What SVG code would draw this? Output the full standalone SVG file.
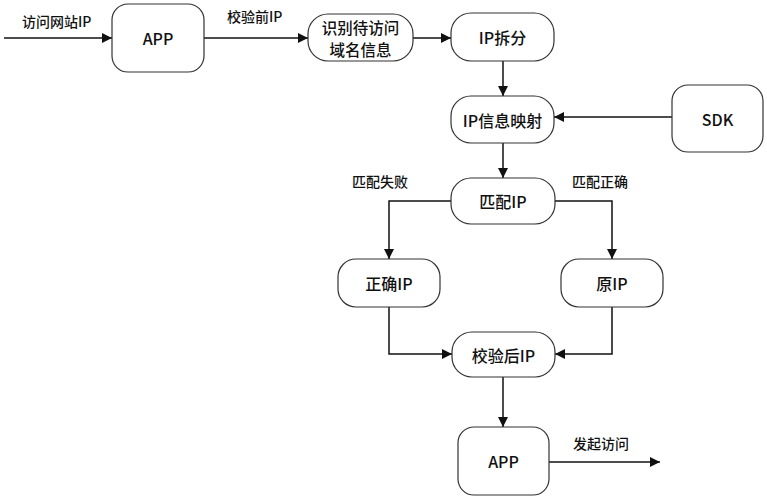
<svg xmlns="http://www.w3.org/2000/svg" width="767" height="500" viewBox="0 0 767 500">
<defs>
<marker id="ah" viewBox="0 0 10 10" refX="10" refY="5" markerWidth="10" markerHeight="10" markerUnits="userSpaceOnUse" orient="auto">
<path d="M0,0 L10,5 L0,10 z" fill="#111"/>
</marker>
<style>
.n rect{fill:#fff;stroke:#333;stroke-width:1.2}
.n text{font-family:"Noto Sans CJK SC","Liberation Sans",sans-serif;font-size:16px;font-weight:500;fill:#111;text-anchor:middle;dominant-baseline:central}
.c path{fill:none;stroke:#111;stroke-width:1.5;marker-end:url(#ah)}
.l{font-family:"Noto Sans CJK SC","Liberation Sans",sans-serif;font-size:14px;font-weight:500;fill:#111}
</style>
</defs>
<rect width="767" height="500" fill="#fff"/>
<g class="c">
<path d="M4,38 H112"/>
<path d="M204,38 H308"/>
<path d="M413,38 H451"/>
<path d="M503,61 V96"/>
<path d="M672,117 H554"/>
<path d="M503,143 V178"/>
<path d="M451,201 H389 V259"/>
<path d="M555,201 H612 V259"/>
<path d="M389,307 V354 H452"/>
<path d="M612,307 V354 H555"/>
<path d="M503,377 V427"/>
<path d="M549,462 H660"/>
</g>
<g id="app1" class="n"><rect x="112" y="4" width="92" height="68" rx="16"/><text x="158" y="38">APP</text></g>
<g id="identify" class="n"><rect x="308" y="14" width="105" height="47" rx="20"/><text x="360.5" y="26.5" style="font-size:15.5px">识别待访问</text><text x="360.5" y="49" style="font-size:15.5px">域名信息</text></g>
<g id="split" class="n"><rect x="451" y="13" width="103" height="48" rx="20"/><text x="502.5" y="37">IP拆分</text></g>
<g id="map" class="n"><rect x="451" y="96" width="103" height="47" rx="20"/><text x="502.5" y="119.5">IP信息映射</text></g>
<g id="sdk" class="n"><rect x="672" y="85" width="91" height="67" rx="16"/><text x="717.5" y="118.5">SDK</text></g>
<g id="match" class="n"><rect x="451" y="178" width="104" height="46" rx="20"/><text x="503" y="201">匹配IP</text></g>
<g id="correct" class="n"><rect x="338" y="259" width="102" height="48" rx="18"/><text x="389" y="283">正确IP</text></g>
<g id="orig" class="n"><rect x="561" y="259" width="102" height="48" rx="18"/><text x="612" y="283">原IP</text></g>
<g id="verified" class="n"><rect x="452" y="332" width="103" height="45" rx="20"/><text x="503.5" y="354.5">校验后IP</text></g>
<g id="app2" class="n"><rect x="458" y="427" width="91" height="68" rx="16"/><text x="503.5" y="461">APP</text></g>
<text class="l" x="22" y="27">访问网站IP</text>
<text class="l" x="227" y="22">校验前IP</text>
<text class="l" x="352" y="187">匹配失败</text>
<text class="l" x="572" y="187">匹配正确</text>
<text class="l" x="573" y="449">发起访问</text>
</svg>
